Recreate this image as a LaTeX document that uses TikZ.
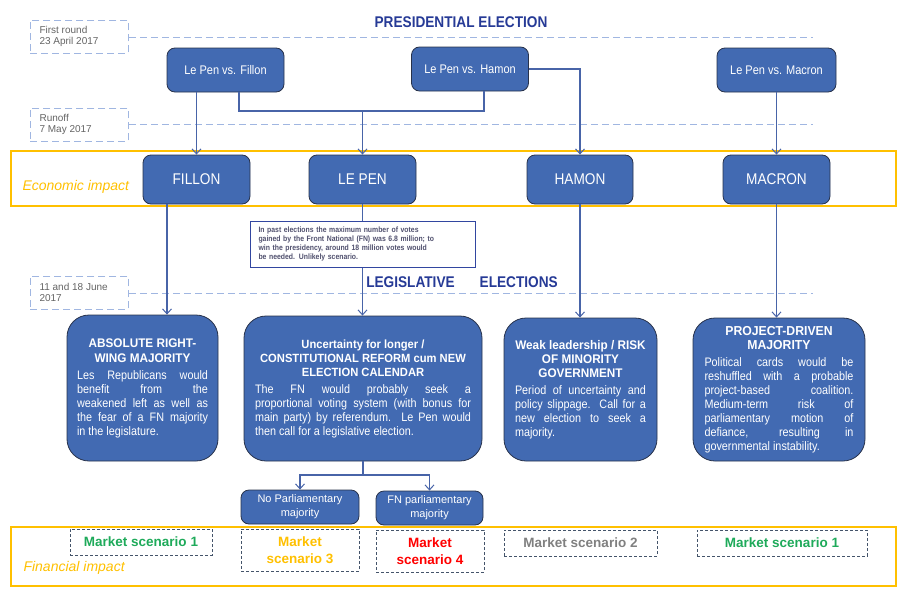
\documentclass[tikz,border=0pt]{standalone}
\usepackage{fontspec}
\setmainfont{Liberation Sans}[FakeStretch=0.88]
\newfontfamily\plainfont{Liberation Sans}
\newfontfamily\headfont{Liberation Sans}[FakeStretch=0.94]
\usetikzlibrary{arrows.meta,calc}
\definecolor{boxblue}{RGB}{66,106,178}
\definecolor{boxedge}{RGB}{40,50,75}
\definecolor{conncol}{RGB}{72,100,168}
\definecolor{dashlight}{RGB}{160,182,225}
\definecolor{titleblue}{RGB}{38,58,150}
\definecolor{yel}{RGB}{255,192,0}
\definecolor{msgreen}{RGB}{30,170,90}
\definecolor{msred}{RGB}{255,0,0}
\definecolor{msgray}{RGB}{128,128,128}
\definecolor{msedge}{RGB}{68,84,106}
\definecolor{notetext}{RGB}{80,80,110}
\definecolor{noteedge}{RGB}{50,70,160}
\definecolor{datetext}{RGB}{100,100,100}
\tikzset{
  smallbox/.style={draw=boxedge, line width=0.8pt, fill=boxblue, rounded corners=8pt,
    text=white, inner sep=0pt, align=center},
  bigbox/.style={draw=boxedge, line width=0.8pt, fill=boxblue, rounded corners=22pt,
    text=white, inner sep=0pt, align=justify, font=\fontsize{12.3}{14}\selectfont},
  conn/.style={draw=conncol, line width=1.1pt},
  arr/.style={conn, -{Straight Barb[length=5pt,width=9pt,line width=1pt]}},
  datebox/.style={draw=dashlight, line width=0.9pt, dash pattern=on 7pt off 4pt,
    inner sep=0pt, anchor=north west},
  datetxt/.style={text=datetext, align=left, font=\plainfont\fontsize{10}{11}\selectfont, anchor=west},
  timeline/.style={draw=dashlight, line width=0.9pt, dash pattern=on 7pt off 4pt},
  zone/.style={draw=yel, line width=2pt},
  zonelabel/.style={text=yel, font=\plainfont\fontsize{14}{16}\selectfont\itshape, anchor=west},
  msbox/.style={draw=msedge, line width=1pt, dash pattern=on 3pt off 2pt, inner sep=0pt,
    align=center, font=\plainfont\fontsize{13.5}{16}\selectfont\bfseries},
  bigtitle/.style={text=titleblue, font=\fontsize{15.5}{18}\selectfont\bfseries}
}
\begin{document}
\begin{tikzpicture}[x=1pt,y=-1pt]
\useasboundingbox (0,0) rectangle (902,589);
% timelines and date boxes
\node[datebox, minimum width=98pt, minimum height=33pt] (d1) at (30,20) {};
\node[datetxt] (d1t) at (36,36.5) {First round\\23 April 2017};
\coordinate (t1e) at (813,37);
\draw[timeline] (d1.east |- t1e) -- (t1e);
\node[datebox, minimum width=98pt, minimum height=33pt] (d2) at (30,108) {};
\node[datetxt] (d2t) at (36,124) {Runoff\\7 May 2017};
\coordinate (t2e) at (813,124);
\draw[timeline] (d2.east |- t2e) -- (t2e);
\node[datebox, minimum width=98pt, minimum height=33pt] (d3) at (30,276) {};
\node[datetxt] (d3t) at (36,292.5) {11 and 18 June\\2017};
\coordinate (t3e) at (813,293);
\draw[timeline] (d3.east |- t3e) -- (t3e);
% titles
\node[bigtitle] (pres) at (461,22) {PRESIDENTIAL ELECTION};
\node[bigtitle] (legis) at (462,282) {LEGISLATIVE\hspace{25pt}ELECTIONS};
% zones
\draw[zone] (11,151) rectangle (896,206);
\node[zonelabel] (econ) at (19,187) {Economic impact};
\draw[zone] (11,527) rectangle (896,586);
\node[zonelabel] (fin) at (20,568) {Financial impact};
% first round boxes
\node[smallbox, minimum width=117pt, minimum height=44pt, font=\fontsize{12.5}{14}\selectfont] (fvs) at (225.5,70) {Le Pen vs. Fillon};
\node[smallbox, minimum width=117pt, minimum height=44pt, font=\fontsize{12.5}{14}\selectfont] (hvs) at (470,69) {Le Pen vs. Hamon};
\node[smallbox, minimum width=119pt, minimum height=44pt, font=\fontsize{12.5}{14}\selectfont] (mvs) at (776.5,70) {Le Pen vs. Macron};
% candidates
\node[smallbox, minimum width=107pt, minimum height=49pt, font=\fontsize{15.5}{18}\selectfont] (fillon) at (196.5,179.5) {FILLON};
\node[smallbox, minimum width=107pt, minimum height=49pt, font=\fontsize{15.5}{18}\selectfont] (lepen) at (362.5,179.5) {LE PEN};
\node[smallbox, minimum width=106pt, minimum height=49pt, font=\fontsize{15.5}{18}\selectfont] (hamon) at (580,179.5) {HAMON};
\node[smallbox, minimum width=107pt, minimum height=49pt, font=\fontsize{15.5}{18}\selectfont] (macron) at (776.5,179.5) {MACRON};
% legislative outcome boxes
\node[bigbox, minimum width=151pt, minimum height=146pt, text width=131pt] (abs) at (142.5,388)
 {{\centering\headfont\bfseries\fontsize{12.5}{15}\selectfont ABSOLUTE RIGHT-\\WING MAJORITY\par}\vspace{3pt}
 Les Republicans would\linebreak benefit from the\linebreak weakened left as well as\linebreak the fear of a FN majority\linebreak in the legislature.};
\node[bigbox, minimum width=238pt, minimum height=145pt, text width=216pt] (unc) at (363,388.5)
 {{\centering\headfont\bfseries\fontsize{11.9}{14}\selectfont Uncertainty for longer /\\CONSTITUTIONAL REFORM cum NEW\\ELECTION CALENDAR\par}\vspace{3pt}
 The FN would probably seek a\linebreak proportional voting system (with bonus for\linebreak main party) by referendum. Le Pen would\linebreak then call for a legislative election.};
\node[bigbox, minimum width=153pt, minimum height=143pt, text width=131pt] (weak) at (580.5,389.5)
 {{\centering\headfont\bfseries\fontsize{12.5}{14}\selectfont Weak leadership / RISK\\OF MINORITY\\GOVERNMENT\par}\vspace{3pt}
 Period of uncertainty and\linebreak policy slippage. Call for a\linebreak new election to seek a\linebreak majority.};
\node[bigbox, minimum width=172pt, minimum height=143pt, text width=149pt] (proj) at (779,389.5)
 {{\centering\headfont\bfseries\fontsize{13}{14.5}\selectfont PROJECT-DRIVEN\\MAJORITY\par}\vspace{3pt}
 Political cards would be\linebreak reshuffled with a probable\linebreak project-based coalition.\linebreak Medium-term risk of\linebreak parliamentary motion of\linebreak defiance, resulting in\linebreak governmental instability.};
% sub-outcomes
\node[smallbox, minimum width=118pt, minimum height=34pt, font=\plainfont\fontsize{11}{14}\selectfont] (nopm) at (300,507) {No Parliamentary\\majority};
\node[smallbox, minimum width=107pt, minimum height=34pt, font=\plainfont\fontsize{11}{14}\selectfont] (fnpm) at (429.5,508) {FN parliamentary\\majority};
% connectors
\coordinate (j1) at (362.5,111);
\draw[conn] ([xshift=13.5pt]fvs.south) |- (j1);
\draw[conn] ([xshift=14pt]hvs.south) |- (j1);
\draw[arr] (fvs.south -| fillon.north) -- (fillon.north);
\draw[arr] (j1) -- (lepen.north);
\draw[arr] (hvs.east) -| (hamon.north);
\draw[arr] (mvs.south) -- (macron.north);
\draw[arr] ([xshift=-29.5pt]fillon.south) -- ([xshift=-29.5pt]fillon.south |- abs.north);
\draw[arr] (lepen.south) -- (lepen.south |- unc.north);
\draw[arr] (hamon.south) -- (hamon.south |- weak.north);
\draw[arr] (macron.south) -- (macron.south |- proj.north);
\coordinate (j2) at (363,475);
\draw[conn] (unc.south) -- (j2);
\draw[arr] (j2) -| (nopm.north);
\draw[arr] (j2) -| (fnpm.north);
% note
\node[draw=noteedge, line width=1pt, fill=white, minimum width=225pt, minimum height=46pt,
  text width=208pt, inner sep=0pt, align=left, text=notetext,
  font=\fontsize{7.8}{9}\selectfont\bfseries] (note) at (362.5,244)
 {In past elections the maximum number of votes\\gained by the Front National (FN) was 6.8 million; to\\win the presidency, around 18 million votes would\\be needed. Unlikely scenario.};
% market scenarios
\node[msbox, minimum width=142pt, minimum height=26pt, text=msgreen] (ms1a) at (141,542) {Market scenario 1};
\node[msbox, minimum width=118pt, minimum height=42pt, text=yel, font=\plainfont\fontsize{13.5}{17}\selectfont\bfseries] (ms3) at (300,550) {Market\\scenario 3};
\node[msbox, minimum width=108pt, minimum height=42pt, text=msred, font=\plainfont\fontsize{13.5}{17}\selectfont\bfseries] (ms4) at (430,551) {Market\\scenario 4};
\node[msbox, minimum width=153pt, minimum height=26pt, text=msgray] (ms2) at (580.5,543) {Market scenario 2};
\node[msbox, minimum width=170pt, minimum height=26pt, text=msgreen] (ms1b) at (782,543) {Market scenario 1};
\end{tikzpicture}
\end{document}
